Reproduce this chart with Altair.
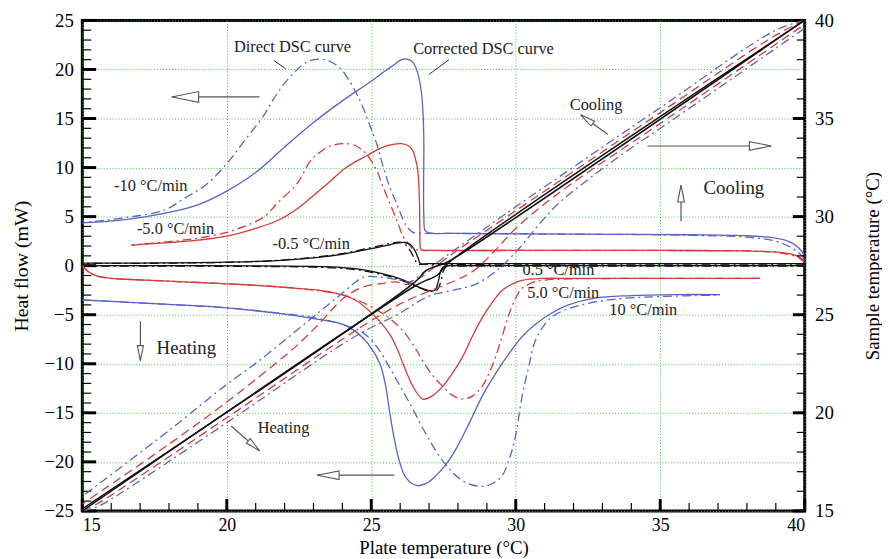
import altair as alt
import pandas as pd

FONT = "Liberation Serif"
BLUE = "#5a62c4"
RED = "#d63a3a"
BLACK = "#111111"
GREEN = "#3cbf3c"
ARROW = "#555555"

W, H = 729, 495

# ---------------- heat-flow curves (plate temperature, mW) ----------------
cool10_corr_x = [40.0, 39.8, 39.5, 39.0, 38.0, 36.0, 33.0, 30.0, 28.0, 27.0, 26.86, 26.82, 26.81, 26.82, 26.80,
                 26.74, 26.62, 26.45, 26.25, 26.04, 25.8, 25.5, 25.0, 24.0, 23.0, 22.0, 21.0, 20.0, 19.0, 17.87,
                 16.5, 15.0]
cool10_corr_y = [1.0, 1.8, 2.4, 2.8, 3.05, 3.15, 3.2, 3.25, 3.3, 3.35, 3.6, 5.0, 8.0, 12.0, 15.0,
                 17.5, 19.5, 20.7, 21.05, 21.0, 20.5, 19.9, 18.8, 16.8, 14.6, 12.1, 9.5, 7.6, 6.2, 5.36,
                 4.7, 4.36]
cool10_dir_x = [40.0, 39.8, 39.5, 39.0, 38.0, 36.0, 33.0, 30.0, 27.0, 26.6, 26.44, 26.25, 26.1, 25.9, 25.64, 25.4,
                25.19, 24.95, 24.73, 24.5, 24.27, 23.9, 23.5, 23.2, 22.8, 22.44, 22.0, 21.6, 21.3, 20.6, 20.0, 19.3,
                18.5, 17.87, 16.5, 15.0]
cool10_dir_y = [0.7, 1.3, 1.9, 2.5, 2.9, 3.1, 3.2, 3.25, 3.3, 3.32, 3.4, 3.9, 4.7, 6.2, 8.0, 10.2,
                12.4, 14.3, 16.0, 17.5, 18.7, 20.2, 20.9, 21.05, 20.8, 20.0, 18.6, 16.9, 15.4, 12.7, 10.4, 8.3,
                6.8, 5.7, 4.9, 4.4]

cool5_corr_x = [40.0, 39.8, 39.5, 39.0, 38.0, 35.0, 30.0, 27.0, 26.75, 26.70, 26.68, 26.67, 26.61, 26.52, 26.44,
                26.3, 26.04, 25.8, 25.53, 25.2, 24.84, 24.4, 24.04, 23.5, 22.9, 22.44, 21.76, 21.0, 20.0, 19.0,
                18.0, 16.7]
cool5_corr_y = [0.5, 0.9, 1.2, 1.4, 1.5, 1.55, 1.55, 1.55, 1.58, 1.8, 3.5, 6.36, 9.7, 11.0, 11.7,
                12.2, 12.44, 12.4, 12.2, 11.8, 11.2, 10.5, 9.8, 8.4, 6.9, 5.8, 4.6, 3.8, 3.0, 2.6,
                2.35, 2.1]
cool5_dir_x = [40.0, 39.8, 39.5, 39.0, 38.0, 35.0, 30.0, 27.0, 26.6, 26.44, 26.3, 26.1, 25.9, 25.64, 25.4, 25.19,
               24.95, 24.73, 24.4, 24.04, 23.75, 23.47, 23.2, 22.9, 22.44, 21.76, 21.3, 20.6, 20.0, 19.0, 18.0, 16.7]
cool5_dir_y = [0.3, 0.8, 1.1, 1.35, 1.5, 1.55, 1.55, 1.55, 1.6, 1.7, 2.2, 3.0, 4.5, 6.36, 8.1, 9.7,
               10.9, 11.7, 12.3, 12.44, 12.35, 12.04, 11.5, 10.7, 8.4, 6.4, 5.0, 4.0, 3.4, 2.8, 2.45, 2.1]

cool05_corr_x = [40.0, 35.0, 30.0, 27.0, 26.7, 26.62, 26.5, 26.35, 26.16, 25.9, 25.5, 25.19, 24.6, 24.04, 23.0,
                 21.76, 20.0, 18.0, 15.0]
cool05_corr_y = [0.2, 0.2, 0.2, 0.2, 0.22, 0.8, 1.6, 2.15, 2.36, 2.3, 2.05, 1.85, 1.5, 1.18, 0.8,
                 0.52, 0.35, 0.28, 0.25]
cool05_dir_x = [40.0, 35.0, 30.0, 27.0, 26.6, 26.5, 26.35, 26.2, 26.0, 25.8, 25.4, 25.0, 24.4, 23.8, 22.8,
                21.5, 20.0, 18.0, 15.0]
cool05_dir_y = [0.15, 0.15, 0.15, 0.15, 0.2, 0.7, 1.5, 2.1, 2.4, 2.35, 2.1, 1.85, 1.45, 1.15, 0.78,
                0.5, 0.33, 0.26, 0.22]

heat05_corr_x = [15.0, 18.0, 21.0, 23.0, 24.0, 24.8, 25.3, 25.8, 26.3, 26.7, 27.0, 27.2, 27.32, 27.42, 27.55,
                 28.0, 32.0, 40.0]
heat05_corr_y = [0.0, 0.0, -0.02, -0.08, -0.2, -0.45, -0.75, -1.15, -1.7, -2.25, -2.55, -2.5, -1.6, -0.4, -0.05,
                 0.0, 0.0, 0.0]
heat05_dir_x = [15.0, 18.0, 21.0, 23.0, 24.0, 24.8, 25.3, 25.8, 26.3, 26.7, 27.0, 27.25, 27.4, 27.5, 27.6,
                28.0, 32.0, 40.0]
heat05_dir_y = [-0.05, -0.05, -0.08, -0.15, -0.28, -0.55, -0.85, -1.25, -1.8, -2.3, -2.6, -2.55, -1.7, -0.5, -0.1,
                -0.05, -0.05, -0.05]

heat5_corr_x = [15.0, 15.2, 15.5, 16.0, 17.0, 18.5, 20.0, 21.0, 22.0, 23.0, 23.6, 24.04, 24.5, 24.95, 25.3, 25.64,
                25.9, 26.1, 26.44, 26.78, 27.1, 27.47, 27.8, 28.16, 28.5, 28.84, 29.2, 29.53, 29.9, 30.22, 30.9,
                32.0, 35.0, 38.45]
heat5_corr_y = [0.0, -0.6, -1.05, -1.3, -1.45, -1.65, -1.85, -2.0, -2.2, -2.45, -2.7, -3.0, -3.6, -4.66, -5.7, -7.0,
                -8.5, -10.0, -12.3, -13.6, -13.3, -12.3, -11.0, -9.3, -7.2, -5.3, -3.7, -2.5, -1.85, -1.5, -1.3,
                -1.3, -1.3, -1.3]
heat5_dir_x = [15.0, 15.2, 15.5, 16.0, 17.0, 18.5, 20.0, 21.0, 22.0, 23.0, 23.6, 24.04, 24.5, 25.0, 25.6, 26.1,
               26.5, 26.78, 27.1, 27.47, 27.8, 28.16, 28.5, 28.84, 29.1, 29.3, 29.55, 29.76, 30.0, 30.22, 30.6,
               30.9, 32.0, 35.0, 38.45]
heat5_dir_y = [0.0, -0.6, -1.05, -1.3, -1.45, -1.65, -1.85, -2.0, -2.2, -2.5, -2.75, -3.0, -3.5, -4.2, -5.3, -6.66,
               -8.3, -9.7, -11.1, -12.3, -13.2, -13.6, -13.3, -12.3, -10.8, -9.3, -7.0, -5.0, -3.3, -2.3, -1.7,
               -1.5, -1.35, -1.3, -1.3]

heat10_corr_x = [15.0, 16.0, 18.0, 20.0, 22.0, 23.0, 24.04, 24.5, 24.9, 25.3, 25.5, 25.64, 25.8, 25.98, 26.2, 26.56,
                 26.9, 27.24, 27.6, 27.93, 28.4, 28.84, 29.3, 29.76, 30.2, 30.67, 31.2, 31.82, 32.73, 34.0, 35.5,
                 37.07]
heat10_corr_y = [-3.5, -3.65, -3.95, -4.3, -4.95, -5.4, -6.0, -6.8, -8.0, -10.0, -12.3, -15.0, -17.7, -20.0, -21.6,
                 -22.4, -22.2, -21.4, -20.2, -18.7, -16.0, -13.3, -11.0, -9.0, -7.3, -6.0, -4.9, -4.0, -3.3, -3.05,
                 -2.95, -2.95]
heat10_dir_x = [15.0, 16.0, 18.0, 20.0, 22.0, 23.0, 24.0, 24.7, 25.2, 25.6, 26.0, 26.4, 26.9, 27.5, 28.2, 28.85,
                29.2, 29.53, 29.8, 29.99, 30.22, 30.45, 30.67, 31.0, 31.36, 32.27, 33.5, 35.0, 37.07]
heat10_dir_y = [-3.5, -3.65, -3.95, -4.3, -4.9, -5.3, -6.0, -6.8, -8.3, -10.2, -12.3, -14.4, -17.2, -20.0, -22.0,
                -22.5, -22.2, -21.4, -19.5, -17.4, -13.3, -10.3, -7.7, -6.0, -5.0, -4.0, -3.4, -3.15, -3.0]

# ---------------- sample temperature curves ----------------
ts_heat05_x = [15.0, 26.5, 26.9, 27.15, 27.35, 27.6, 40.0]
ts_heat05_y = [15.0, 26.45, 26.75, 26.9, 27.1, 27.55, 40.0]
ts_cool05_x = [40.0, 27.8, 27.5, 27.2, 26.9, 26.5, 15.0]
ts_cool05_y = [40.02, 27.82, 27.6, 27.45, 27.25, 26.65, 15.1]
ts_heat5_x = [15.0, 15.5, 16.0, 20.0, 24.0, 25.0, 26.0, 27.0, 28.0, 28.6, 29.3, 30.0, 31.0, 32.0, 35.0, 40.0]
ts_heat5_y = [15.0, 15.35, 15.8, 19.75, 23.75, 24.7, 25.55, 26.2, 26.8, 27.3, 28.3, 29.4, 30.65, 31.75, 34.75, 39.8]
ts_heat10_x = [15.0, 15.5, 16.0, 20.0, 24.0, 25.0, 25.9, 27.0, 28.0, 28.6, 29.3, 30.1, 30.8, 31.5, 32.6, 34.0, 35.0,
               40.0]
ts_heat10_y = [15.0, 15.2, 15.6, 19.5, 23.5, 24.35, 25.0, 25.95, 26.3, 26.55, 27.2, 28.35, 29.6, 30.7, 32.0, 33.5,
               34.5, 39.6]
ts_cool5_x = [40.0, 39.0, 35.0, 30.0, 28.0, 27.3, 26.8, 26.3, 25.87, 25.41, 24.73, 24.04, 23.2, 22.44, 21.0, 20.0,
              18.0, 15.0]
ts_cool5_y = [40.0, 39.25, 35.3, 30.3, 28.3, 27.55, 27.0, 26.55, 26.67, 26.6, 26.42, 25.84, 24.55, 23.45, 21.7,
              20.55, 18.4, 15.35]
ts_cool10_x = [40.0, 39.0, 35.0, 30.0, 28.6, 27.5, 26.8, 26.33, 26.0, 25.5, 25.0, 24.73, 24.4, 24.0, 23.5, 22.5,
               21.07, 20.0, 18.0, 15.0]
ts_cool10_y = [40.0, 39.5, 35.55, 30.5, 29.05, 27.9, 27.15, 26.67, 26.75, 26.88, 26.95, 26.92, 26.6, 26.1, 25.5,
               24.3, 22.6, 21.45, 19.1, 15.74]

# ---------------- axes ----------------
x_major = [15, 20, 25, 30, 35, 40]
x_minor = [v for v in range(15, 41) if v % 5]
hf_major = [-25, -20, -15, -10, -5, 0, 5, 10, 15, 20, 25]
hf_minor = [v for v in range(-25, 26) if v % 5]
ts_major = [15, 20, 25, 30, 35, 40]
ts_minor = [v for v in range(15, 41) if v % 5]

# ---------------- annotations ----------------
label_text = ["Direct DSC curve", "Corrected DSC curve", "-10 \u00b0C/min", "-5.0 \u00b0C/min", "-0.5 \u00b0C/min",
              "0.5 \u00b0C/min", "5.0 \u00b0C/min", "10 \u00b0C/min", "Cooling", "Heating"]
label_x = [20.25, 26.45, 16.1, 16.89, 21.58, 30.23, 30.4, 33.24, 31.87, 21.07]
label_y = [22.3, 22.1, 8.07, 3.76, 2.25, -0.45, -2.76, -4.56, 16.38, -16.58]
big_text = ["Cooling", "Heating"]
big_x = [36.5, 17.57]
big_y = [7.87, -8.37]

leader_x = [21.64, 27.69]
leader_y = [20.9, 21.0]
leader_x2 = [22.04, 27.0]
leader_y2 = [20.06, 19.5]

arrow_x = [21.13, 25.8, 34.56, 35.72, 17.01, 33.19, 20.15]
arrow_y = [17.2, -21.36, 12.2, 4.53, -5.66, 13.38, -16.35]
arrow_x2 = [18.1, 23.13, 38.84, 35.72, 17.01, 32.25, 21.13]
arrow_y2 = [17.2, -21.36, 12.2, 8.2, -9.67, 15.38, -18.86]
arrow_angle = [180, 180, 0, 270, 90, 216.5, 41.4]
arrow_size = [729, 484, 484, 289, 225, 225, 225]

HEAD = "M0,0 L-2,-0.4 L-2,0.4 Z"

XS = alt.Scale(domain=[15, 40], nice=False, zero=False)
HFS = alt.Scale(domain=[-25, 25], nice=False, zero=False)
TSS = alt.Scale(domain=[15, 40], nice=False, zero=False)

AX_X = alt.Axis(values=x_major, grid=True, gridDash=[1, 2], gridColor=GREEN, gridWidth=1, ticks=False,
                domain=False, labelPadding=6, labelFontSize=18, title="Plate temperature (\u00b0C)",
                titlePadding=4, titleFontSize=19)
AX_HF = alt.Axis(values=hf_major, grid=True, gridDash=[1, 2], gridColor=GREEN, gridWidth=1, ticks=False,
                 domain=False, labelPadding=9, title="Heat flow (mW)", titlePadding=13)
AX_TS = alt.Axis(values=ts_major, orient="right", grid=False, ticks=False, domain=False, labelPadding=10,
                 title="Sample temperature (\u00b0C)", titleAngle=270, titlePadding=49, titleFontSize=19)


def xenc(field):
    return alt.X(field, scale=XS, axis=AX_X)


def yenc(field, which):
    if which == "hf":
        return alt.Y(field, scale=HFS, axis=AX_HF)
    return alt.Y(field, scale=TSS, axis=AX_TS)


def curve(xs, ys, color, dash, which, width=1.3):
    df = pd.DataFrame({"x": xs, "y": ys, "i": list(range(len(xs)))})
    kw = dict(color=color, strokeWidth=width, clip=True, interpolate="catmull-rom")
    if dash:
        kw["strokeDash"] = dash
    return alt.Chart(df).mark_line(**kw).encode(x=xenc("x:Q"), y=yenc("y:Q", which), order="i:Q")


DASHDOT = [9, 4, 2, 4]
DASHED = [9, 5]

left_major = alt.Chart(pd.DataFrame({"v": hf_major})).mark_rule(color="black", strokeWidth=3).encode(
    y=yenc("v:Q", "hf"), x=alt.value(0), x2=alt.value(14))
left_minor = alt.Chart(pd.DataFrame({"v": hf_minor})).mark_rule(color="black", strokeWidth=1.2).encode(
    y=yenc("v:Q", "hf"), x=alt.value(0), x2=alt.value(9))
bottom_major = alt.Chart(pd.DataFrame({"v": x_major})).mark_rule(color="black", strokeWidth=3).encode(
    x=xenc("v:Q"), y=alt.value(H), y2=alt.value(H - 12))
bottom_minor = alt.Chart(pd.DataFrame({"v": x_minor})).mark_rule(color="black", strokeWidth=1.2).encode(
    x=xenc("v:Q"), y=alt.value(H), y2=alt.value(H - 8))
right_major = alt.Chart(pd.DataFrame({"v": ts_major})).mark_rule(color="black", strokeWidth=3).encode(
    y=yenc("v:Q", "ts"), x=alt.value(W), x2=alt.value(W - 12))
right_minor = alt.Chart(pd.DataFrame({"v": ts_minor})).mark_rule(color="black", strokeWidth=1.2).encode(
    y=yenc("v:Q", "ts"), x=alt.value(W), x2=alt.value(W - 8))

hf_lines = [
    curve(cool10_dir_x, cool10_dir_y, BLUE, DASHDOT, "hf"),
    curve(cool10_corr_x, cool10_corr_y, BLUE, None, "hf"),
    curve(cool5_dir_x, cool5_dir_y, RED, DASHDOT, "hf"),
    curve(cool5_corr_x, cool5_corr_y, RED, None, "hf"),
    curve(cool05_dir_x, cool05_dir_y, BLACK, DASHDOT, "hf"),
    curve(cool05_corr_x, cool05_corr_y, BLACK, None, "hf"),
    curve(heat05_dir_x, heat05_dir_y, BLACK, DASHDOT, "hf"),
    curve(heat05_corr_x, heat05_corr_y, BLACK, None, "hf"),
    curve(heat5_dir_x, heat5_dir_y, RED, DASHDOT, "hf"),
    curve(heat5_corr_x, heat5_corr_y, RED, None, "hf"),
    curve(heat10_dir_x, heat10_dir_y, BLUE, DASHDOT, "hf"),
    curve(heat10_corr_x, heat10_corr_y, BLUE, None, "hf"),
]

ts_lines = [
    curve(ts_cool10_x, ts_cool10_y, BLUE, DASHDOT, "ts"),
    curve(ts_heat10_x, ts_heat10_y, BLUE, DASHDOT, "ts"),
    curve(ts_cool5_x, ts_cool5_y, RED, DASHED, "ts"),
    curve(ts_heat5_x, ts_heat5_y, RED, DASHED, "ts"),
    curve(ts_cool05_x, ts_cool05_y, BLACK, None, "ts", 1.5),
    curve(ts_heat05_x, ts_heat05_y, BLACK, None, "ts", 1.5),
]

labels = alt.Chart(pd.DataFrame({"x": label_x, "y": label_y, "t": label_text})).mark_text(
    font=FONT, fontSize=16.5, align="left", baseline="middle", color="#222222").encode(
    x=xenc("x:Q"), y=yenc("y:Q", "hf"), text="t:N")
big_labels = alt.Chart(pd.DataFrame({"x": big_x, "y": big_y, "t": big_text})).mark_text(
    font=FONT, fontSize=19, align="left", baseline="middle", color="#222222").encode(
    x=xenc("x:Q"), y=yenc("y:Q", "hf"), text="t:N")
leaders = alt.Chart(pd.DataFrame({"x": leader_x, "y": leader_y, "x2": leader_x2, "y2": leader_y2})).mark_rule(
    color="#333333", strokeWidth=1).encode(x=xenc("x:Q"), y=yenc("y:Q", "hf"), x2="x2:Q", y2="y2:Q")
adf = pd.DataFrame({"x": arrow_x, "y": arrow_y, "x2": arrow_x2, "y2": arrow_y2, "a": arrow_angle, "s": arrow_size})
shafts = alt.Chart(adf).mark_rule(color=ARROW, strokeWidth=1.2).encode(
    x=xenc("x:Q"), y=yenc("y:Q", "hf"), x2="x2:Q", y2="y2:Q")
heads = alt.Chart(adf).mark_point(shape=HEAD, filled=True, fill="white", stroke=ARROW, strokeWidth=1.1,
                                  opacity=1).encode(
    x=xenc("x2:Q"), y=yenc("y2:Q", "hf"),
    angle=alt.Angle("a:Q", scale=None), size=alt.Size("s:Q", scale=None))

layer_hf = alt.layer(left_major, left_minor, bottom_major, bottom_minor, *hf_lines, labels, big_labels, leaders,
                     shafts, heads)
layer_ts = alt.layer(right_major, right_minor, *ts_lines)

chart = alt.layer(layer_hf, layer_ts).resolve_scale(y="independent").properties(
    width=W, height=H,
    padding={"left": 75, "top": 10, "right": 78, "bottom": 46},
    autosize=alt.AutoSizeParams(type="none"),
).configure_view(stroke="black", strokeWidth=3).configure_axis(
    labelFont=FONT, titleFont=FONT, labelFontSize=19, titleFontSize=20, titleFontWeight="normal",
    labelColor="black", titleColor="black")

chart.save("out.html", embed_options={"renderer": "svg", "actions": False})
